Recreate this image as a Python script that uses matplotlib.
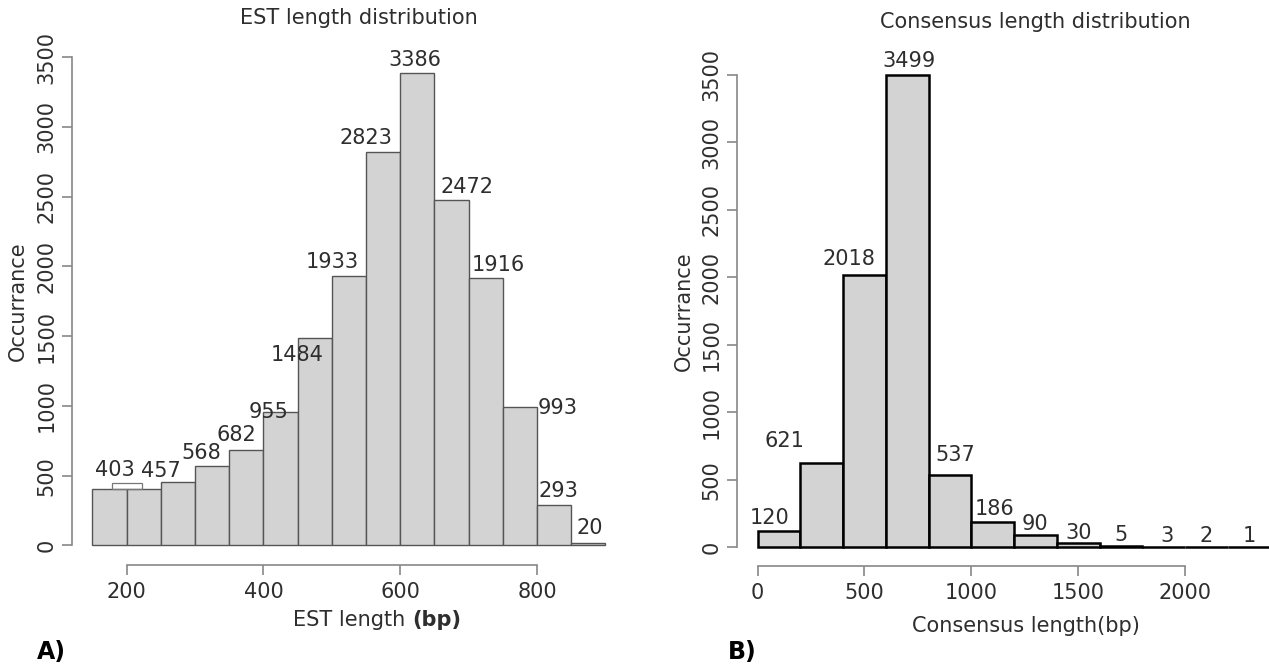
import matplotlib.pyplot as plt
from matplotlib.patches import Rectangle

# EST length histogram, bins of 50 bp
est_edges = [150, 200, 250, 300, 350, 400, 450, 500, 550, 600, 650, 700, 750, 800, 850]
est_counts = [403, 403, 457, 568, 682, 955, 1484, 1933, 2823, 3386, 2472, 1916, 993, 293, 20]
est_labels = ['403', '', '457', '568', '682', '955', '1484', '1933', '2823', '3386',
              '2472', '1916', '993', '293', '20']

# Consensus length histogram, bins of 200 bp
cons_edges = [0, 200, 400, 600, 800, 1000, 1200, 1400, 1600, 1800, 2000, 2200]
cons_counts = [120, 621, 2018, 3499, 537, 186, 90, 30, 5, 3, 2, 1]

est_xticks = [200, 400, 600, 800]
cons_xticks = [0, 500, 1000, 1500, 2000]
yticks = [0, 500, 1000, 1500, 2000, 2500, 3000, 3500]

# hand placed label nudges (pixels) as in the original figure
est_dx = [5, 0, -17, -11, -10, -12, -18, -17, -17, -3, 15, 13, 38, 4, 1]
est_dy = [19, 0, 11, 13, 15, 0, -17, 14, 14, 13, 13, 13, -1, 14, 15]
cons_dx = [-9, -37, -15, 2, 5, 2, 0, 0, 0, 3, 0, 0]
cons_dy = [13, 22, 16, 14, 20, 13, 11, 10, 11, 11, 11, 11]

txt = '#2e2e2e'
axc = '#888888'
fs = 15
plt.rcParams['font.family'] = 'DejaVu Sans'

fig = plt.figure(figsize=(12.69, 6.65), dpi=100)
ax1 = fig.add_axes([0.0567, 0.1504, 0.4366, 0.7932])
ax2 = fig.add_axes([0.5808, 0.1489, 0.4366, 0.7669])


def style_axis(ax, xticks, xbounds):
    ax.spines['top'].set_visible(False)
    ax.spines['right'].set_visible(False)
    for s in ['left', 'bottom']:
        ax.spines[s].set_color(axc)
        ax.spines[s].set_linewidth(1.2)
    ax.spines['left'].set_bounds(0, 3500)
    ax.spines['bottom'].set_bounds(*xbounds)
    ax.set_xticks(xticks)
    ax.set_yticks(yticks)
    ax.set_yticklabels([str(v) for v in yticks], rotation=90, va='center')
    ax.tick_params(axis='both', length=7, width=1.2, color=axc, labelsize=fs,
                   labelcolor=txt)
    ax.tick_params(axis='x', pad=5)
    ax.tick_params(axis='y', pad=4)
    ax.set_ylim(-140, 3640)


# ---- A) EST length distribution ----
ax1.bar(est_edges, est_counts, width=50, align='edge', color='#d3d3d3',
        edgecolor='#555555', linewidth=1.0)
for i, lab in enumerate(est_labels):
    if lab:
        ax1.annotate(lab, (est_edges[i] + 25, est_counts[i]),
                     xytext=(est_dx[i], est_dy[i]), textcoords='offset pixels',
                     ha='center', va='center', fontsize=fs, color=txt)
# little bracket above the first two bars
ax1.add_patch(Rectangle((178, est_counts[0]), 44, 42, fill=False,
                        edgecolor='#777777', linewidth=0.9))
ax1.set_xlim(120, 930)
style_axis(ax1, est_xticks, (200, 800))
fig.text(359 / 1269, 1 - 18 / 665, 'EST length distribution', fontsize=15,
         color=txt, ha='center', va='center')
xl = ax1.text(0.399, -0.104, 'EST length ', transform=ax1.transAxes,
              ha='left', va='center', fontsize=fs, color=txt)
ax1.annotate('(bp)', xy=(1, 0.5), xycoords=xl, ha='left', va='center',
             fontsize=fs, color=txt, fontweight='bold')
ax1.set_ylabel('Occurrance', fontsize=fs, color=txt)
ax1.yaxis.set_label_coords(-0.079, 0.5)

# ---- B) Consensus length distribution ----
ax2.bar(cons_edges, cons_counts, width=200, align='edge', color='#d3d3d3',
        edgecolor='black', linewidth=1.8, clip_on=False)
for i, v in enumerate(cons_counts):
    ax2.annotate(str(v), (cons_edges[i] + 100, v),
                 xytext=(cons_dx[i], cons_dy[i]), textcoords='offset pixels',
                 ha='center', va='center', fontsize=fs, color=txt)
ax2.set_xlim(-96, 2496)
style_axis(ax2, cons_xticks, (0, 2000))
fig.text(1035 / 1269, 1 - 22 / 665, 'Consensus length distribution', fontsize=15,
         color=txt, ha='center', va='center')
ax2.text(0.522, -0.118, 'Consensus length(bp)', transform=ax2.transAxes,
         ha='center', va='center', fontsize=fs, color=txt)
ax2.set_ylabel('Occurrance', fontsize=fs, color=txt)
ax2.yaxis.set_label_coords(-0.078, 0.5)

fig.text(37 / 1269, 1 - 652 / 665, 'A)', fontsize=17, fontweight='bold',
         ha='left', va='center', color='black')
fig.text(728 / 1269, 1 - 652 / 665, 'B)', fontsize=17, fontweight='bold',
         ha='left', va='center', color='black')

fig.savefig('out.png', dpi=100)
